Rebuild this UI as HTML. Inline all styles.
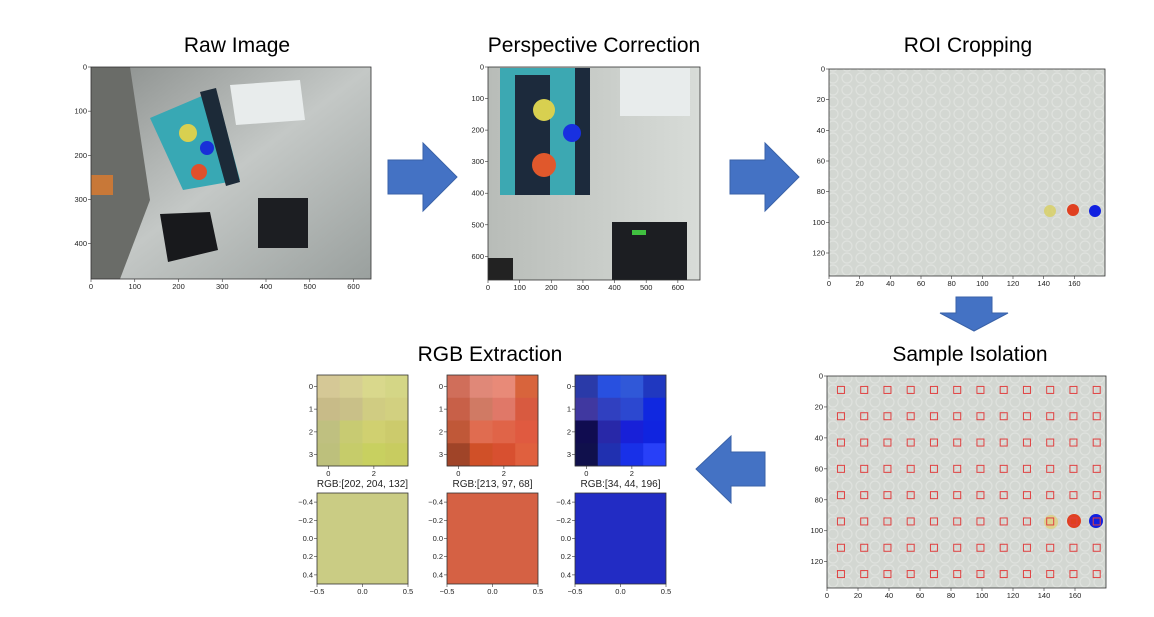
<!DOCTYPE html>
<html><head><meta charset="utf-8"><style>
body{margin:0;background:#fff;width:1154px;height:617px;overflow:hidden;font-family:"Liberation Sans",sans-serif}
svg{position:absolute;left:0;top:0}
.t{font-size:7.5px;fill:#222}
.h{font-size:21px;fill:#000}
</style></head><body>
<svg id="s" width="1154" height="617">
<g font-family="Liberation Sans, sans-serif">
<text class="h" x="237" y="52" text-anchor="middle">Raw Image</text>
<text class="h" x="594" y="52" text-anchor="middle">Perspective Correction</text>
<text class="h" x="968" y="52" text-anchor="middle">ROI Cropping</text>
<text class="h" x="970" y="361" text-anchor="middle">Sample Isolation</text>
<text class="h" x="490" y="361" text-anchor="middle">RGB Extraction</text>
</g>
<defs>
<linearGradient id="g1" x1="0" y1="0" x2="1" y2="1"><stop offset="0" stop-color="#8a8e8c"/><stop offset=".5" stop-color="#c4c8c6"/><stop offset="1" stop-color="#9aa09e"/></linearGradient>
<linearGradient id="g2" x1="0" y1="0" x2="1" y2="0"><stop offset="0" stop-color="#b8bcb8"/><stop offset="1" stop-color="#d8dcd8"/></linearGradient>
<pattern id="bub" width="14" height="12" patternUnits="userSpaceOnUse"><rect width="14" height="12" fill="#d3d7d2"/><circle cx="7" cy="6" r="5" fill="none" stroke="#dfe2de" stroke-width="1.2"/></pattern>
</defs>
<g>
<rect x="91" y="67" width="280" height="212" fill="url(#g1)"/>
<polygon points="91,67 130,67 150,200 120,279 91,279" fill="#6a6c68"/>
<polygon points="150,118 216,90 240,180 183,190" fill="#38a8b4"/>
<polygon points="200,92 216,88 240,182 226,186" fill="#1c2a38"/>
<circle cx="188" cy="133" r="9" fill="#d8d050"/><circle cx="207" cy="148" r="7" fill="#1830d8"/><circle cx="199" cy="172" r="8" fill="#e0502c"/>
<polygon points="230,85 300,80 305,120 236,125" fill="#e8ecec"/>
<rect x="258" y="198" width="50" height="50" fill="#1c1e22"/>
<polygon points="160,214 210,212 218,250 168,262" fill="#18191c"/>
<rect x="91" y="175" width="22" height="20" fill="#c87838"/>
</g>
<g>
<rect x="488" y="67" width="212" height="213" fill="url(#g2)"/>
<rect x="500" y="68" width="90" height="127" fill="#3ca8b2"/>
<rect x="515" y="75" width="35" height="120" fill="#1c2a3c"/>
<rect x="575" y="68" width="15" height="127" fill="#1c2a3c"/>
<circle cx="544" cy="110" r="11" fill="#d8d050"/><circle cx="572" cy="133" r="9" fill="#1830e0"/><circle cx="544" cy="165" r="12" fill="#e0582c"/>
<rect x="620" y="68" width="70" height="48" fill="#e8ecec"/>
<rect x="612" y="222" width="75" height="58" fill="#1c1e22"/><rect x="632" y="230" width="14" height="5" fill="#40c040"/>
<rect x="488" y="258" width="25" height="22" fill="#222"/>
</g>
<g>
<rect x="829" y="69" width="276" height="207" fill="url(#bub)"/>
<circle cx="1050" cy="211" r="6" fill="#d8d060" opacity=".8"/><circle cx="1073" cy="210" r="6" fill="#e04020"/><circle cx="1095" cy="211" r="6" fill="#1020e0"/>
</g>
<g>
<rect x="827" y="376" width="279" height="212" fill="url(#bub)"/>
<circle cx="1051" cy="522" r="7" fill="#e0d070" opacity=".7"/><circle cx="1074" cy="521" r="7" fill="#e04020"/><circle cx="1096" cy="521" r="7" fill="#1020e0"/>
</g>
<g id="arrows" fill="#4472c4" stroke="#3a62a8" stroke-width="1">
<polygon points="388,160 423,160 423,143 457,177 423,211 423,194 388,194"/>
<polygon points="730,160 765,160 765,143 799,177 765,211 765,194 730,194"/>
<polygon points="956,297 992,297 992,313 1008,313 974,331 940,313 956,313"/>
<polygon points="765,452 731,452 731,436 696,469 731,503 731,486 765,486"/>
</g>
<g id="dyn"></g>
</svg>
<script>
const NS="http://www.w3.org/2000/svg";
const dyn=document.getElementById('dyn');
function el(t,a,p){const e=document.createElementNS(NS,t);for(const k in a)e.setAttribute(k,a[k]);(p||dyn).appendChild(e);return e;}
function txt(x,y,s,anchor,p){const e=el('text',{x:x,y:y,'class':'t','text-anchor':anchor},p);e.textContent=s;return e;}
const rawXTicks=[0,100,200,300,400,500,600];const rawYTicks=[0,100,200,300,400];
const perXTicks=[0,100,200,300,400,500,600];const perYTicks=[0,100,200,300,400,500,600];
const roiXTicks=[0,20,40,60,80,100,120,140,160];const roiYTicks=[0,20,40,60,80,100,120];
const sampleCols=[9,24,39,54,69,84,99,114,129,144,159,174];
const sampleRows=[9,26,43,60,77,94,111,128];
const heatTicksX=[0,2];const heatTicksY=[0,1,2,3];
const swatchYTicks=[-0.4,-0.2,0.0,0.2,0.4];const swatchXTicks=[-0.5,0.0,0.5];
const rgbLabels=["RGB:[202, 204, 132]","RGB:[213, 97, 68]","RGB:[34, 44, 196]"];
const rgbValues=[[202,204,132],[213,97,68],[34,44,196]];
const heatYellow=[["#d5c896","#d6cf92","#d9d88c","#d4d686"],["#c8bb88","#c9c088","#d0cc82","#d2d080"],["#bfc080","#c8cb72","#d0d070","#cccb6c"],["#bdc07c","#c6cc6a","#c8d060","#c8cc60"]];
const heatRed=[["#d06e5a","#e08878","#e88a78","#d8643c"],["#c86048","#d07a64","#e07868","#d85a40"],["#c05838","#e06c50","#e06448","#e05a40"],["#a04428","#d05028","#d85030","#e0603e"]];
const heatBlue=[["#2a3aa8","#2850e0","#3058d8","#2038c0"],["#4038a0","#3040c0","#2c48d0","#1028e0"],["#100c50","#2828a8","#1820d8","#1024e0"],["#10104c","#2030b0","#1830e8","#2840f8"]];
const heats=[heatYellow,heatRed,heatBlue];

function axes(x0,y0,w,h,xd,yd,xt,yt,fmt){
  const sx=v=>x0+(v-xd[0])/(xd[1]-xd[0])*w, sy=v=>y0+(v-yd[0])/(yd[1]-yd[0])*h;
  const f=fmt||(v=>String(v));
  el('rect',{x:x0,y:y0,width:w,height:h,fill:'none',stroke:'#333','stroke-width':0.8});
  xt.forEach(v=>{el('line',{x1:sx(v),x2:sx(v),y1:y0+h,y2:y0+h+3,stroke:'#333','stroke-width':.6});txt(sx(v),y0+h+10,f(v).replace('-','\u2212'),'middle');});
  yt.forEach(v=>{el('line',{x1:x0-3,x2:x0,y1:sy(v),y2:sy(v),stroke:'#333','stroke-width':.6});txt(x0-4,sy(v)+2.5,f(v).replace('-','\u2212'),'end');});
  return {sx,sy};
}
axes(91,67,280,212,[0,640],[0,480],rawXTicks,rawYTicks);
axes(488,67,212,213,[0,670],[0,675],perXTicks,perYTicks);
axes(829,69,276,207,[0,180],[0,135],roiXTicks,roiYTicks);
const sa=axes(827,376,279,212,[0,180],[0,137],roiXTicks,roiYTicks);
sampleRows.forEach(r=>sampleCols.forEach(c=>{
  const q=el('rect',{x:sa.sx(c)-3.5,y:sa.sy(r)-3.5,width:7,height:7,fill:'none',stroke:'#e04040','stroke-width':1});
  
  
}));
const hx=[317,447,575];
heats.forEach((H,i)=>{
  const x0=hx[i],y0=375,w=91,h=91;
  const g=el('g',{});
  
  
  H.forEach((row,r)=>row.forEach((c,k)=>{el('rect',{x:x0+k*w/4,y:y0+r*h/4,width:w/4+0.3,height:h/4+0.3,fill:c},g);}));
  axes(x0,y0,w,h,[-0.5,3.5],[-0.5,3.5],heatTicksX,heatTicksY);
  const lb=txt(x0+w/2,487,rgbLabels[i],'middle');
  lb.setAttribute('style','font-size:10px');
  
  
  const v=rgbValues[i];
  const sw=el('rect',{x:x0,y:493,width:w,height:91,fill:'rgb('+v.join(',')+')'});
  
  
  axes(x0,493,w,91,[-0.5,0.5],[-0.5,0.5],swatchXTicks,swatchYTicks,v=>v.toFixed(1));
});
</script>
</body></html>
